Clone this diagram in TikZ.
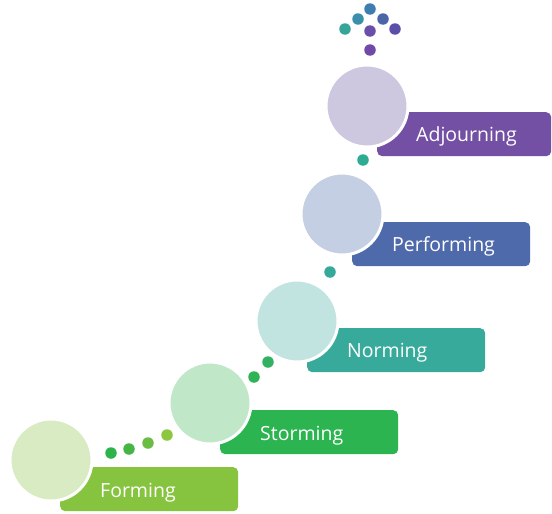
\documentclass[tikz,border=0pt]{standalone}
\usepackage{fontspec}
\setmainfont{Open Sans}
\begin{document}
\begin{tikzpicture}[x=1pt,y=-1pt,
  stagebox/.style={rounded corners=5pt,minimum width=178pt,minimum height=44pt,inner sep=0pt,anchor=north west},
  stagedisc/.style={circle,draw=white,line width=3pt,minimum size=82pt,inner sep=0pt},
  label/.style={text=white,font=\fontsize{19.5}{22}\selectfont,anchor=base west,inner sep=0pt},
  dot/.style={circle,minimum size=11.5pt,inner sep=0pt}]
\definecolor{formbox}{HTML}{86C440}\definecolor{formdisc}{HTML}{D8EBC2}
\definecolor{stormbox}{HTML}{2BB44F}\definecolor{stormdisc}{HTML}{C1E7C9}
\definecolor{normbox}{HTML}{38AA9B}\definecolor{normdisc}{HTML}{C2E4E1}
\definecolor{perfbox}{HTML}{4F6AAB}\definecolor{perfdisc}{HTML}{C5CFE3}
\definecolor{adjbox}{HTML}{7450A4}\definecolor{adjdisc}{HTML}{CDC8E0}
\useasboundingbox[fill=white] (0,0) rectangle (552,514);

% stage bars, each with its disc laid over the left end
\node[stagebox,fill=formbox] (fbox) at (60,467) {};
\node[stagedisc,fill=formdisc] (fdisc) at (51,460) {};
\node[label] (ftext) at (100,497.5) {Forming};

\node[stagebox,fill=stormbox] (sbox) at (220,410) {};
\node[stagedisc,fill=stormdisc] (sdisc) at (210,403) {};
\node[label] (stext) at (260,440) {Storming};

\node[stagebox,fill=normbox] (nbox) at (307,328) {};
\node[stagedisc,fill=normdisc] (ndisc) at (297,321) {};
\node[label] (ntext) at (347,357.5) {Norming};

\node[stagebox,fill=perfbox] (pbox) at (352,222) {};
\node[stagedisc,fill=perfdisc] (pdisc) at (342,214) {};
\node[label] (ptext) at (392,251.5) {Performing};

\node[stagebox,fill=adjbox,minimum width=174pt] (abox) at (377,112) {};
\node[stagedisc,fill=adjdisc] (adisc) at (367,106) {};
\node[label] (atext) at (416,141) {Adjourning};

% dotted steps between the stages
\node[dot,fill={rgb,255:red,45;green,179;blue,74}] (d1) at (111,453) {};
\node[dot,fill={rgb,255:red,69;green,182;blue,70}] (d2) at (129,449) {};
\node[dot,fill={rgb,255:red,106;green,189;blue,66}] (d3) at (148,443) {};
\node[dot,fill={rgb,255:red,141;green,198;blue,63}] (d4) at (167,435) {};

\node[dot,fill={rgb,255:red,47;green,179;blue,85}] (d5) at (254,377) {};
\node[dot,fill={rgb,255:red,51;green,177;blue,99}] (d6) at (268,362) {};

\node[dot,fill={rgb,255:red,53;green,169;blue,154}] (d7) at (330,272) {};
\node[dot,fill={rgb,255:red,46;green,172;blue,147}] (d8) at (363,160) {};

% cluster above the last stage
\node[dot,fill={rgb,255:red,114;green,73;blue,168}] (t1) at (370,50) {};
\node[dot,fill={rgb,255:red,53;green,165;blue,154}] (t2) at (345,29) {};
\node[dot,fill={rgb,255:red,106;green,79;blue,168}] (t3) at (370,31) {};
\node[dot,fill={rgb,255:red,91;green,80;blue,168}] (t4) at (395,29) {};
\node[dot,fill={rgb,255:red,58;green,143;blue,170}] (t5) at (358,19) {};
\node[dot,fill={rgb,255:red,74;green,102;blue,168}] (t6) at (383,19) {};
\node[dot,fill={rgb,255:red,63;green,124;blue,176}] (t7) at (370,9) {};
\end{tikzpicture}
\end{document}
